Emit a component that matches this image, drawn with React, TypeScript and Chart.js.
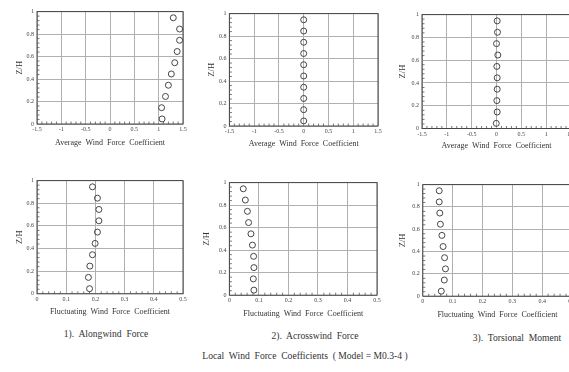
import React, { useEffect, useRef } from "react";
import { Chart, registerables } from "chart.js";
Chart.register(...registerables);

const heights = [0.045, 0.145, 0.245, 0.345, 0.445, 0.545, 0.645, 0.745, 0.845, 0.945];
const meanAlong = [1.07, 1.06, 1.14, 1.2, 1.26, 1.33, 1.38, 1.43, 1.43, 1.3];
const meanAcross = [0, 0, 0, 0, 0, 0, 0, 0, 0, 0];
const meanTorsion = [-0.005, 0.014, 0.007, 0.014, 0.014, 0.007, 0.027, 0, 0.02, 0.014];
const fluctAlong = [0.18, 0.176, 0.181, 0.19, 0.199, 0.207, 0.212, 0.212, 0.207, 0.19];
const fluctAcross = [0.083, 0.081, 0.083, 0.082, 0.078, 0.073, 0.065, 0.061, 0.054, 0.047];
const fluctTorsion = [0.062, 0.072, 0.076, 0.073, 0.068, 0.064, 0.059, 0.057, 0.055, 0.055];

const meanTicks = [-1.5, -1, -0.5, 0, 0.5, 1, 1.5];
const fluctTicks = [0, 0.1, 0.2, 0.3, 0.4, 0.5];
const yTicks = [0, 0.2, 0.4, 0.6, 0.8, 1];

const meanTitle = "Average  Wind  Force  Coefficient";
const fluctTitle = "Fluctuating  Wind  Force  Coefficient";
const yTitle = "Z/H";
const captions = ["1).  Alongwind  Force", "2).  Acrosswind  Force", "3).  Torsional  Moment"];
const mainTitle = "Local  Wind  Force  Coefficients  ( Model = M0.3-4 )";

const FONT = "'Liberation Serif', 'DejaVu Serif', serif";
const T = 6;
const R = 8;

type Panel = {
  left: number; top: number; right: number; bottom: number;
  W: number; H: number; values: number[]; ticks: number[]; xTitle: string;
};

const panels: Panel[] = [
  { left: 37, top: 11, right: 183, bottom: 124, W: 22, H: 24, values: meanAlong, ticks: meanTicks, xTitle: meanTitle },
  { left: 229.3, top: 12.7, right: 378, bottom: 126, W: 22.4, H: 23, values: meanAcross, ticks: meanTicks, xTitle: meanTitle },
  { left: 422.3, top: 14, right: 571, bottom: 128, W: 24, H: 22.5, values: meanTorsion, ticks: meanTicks, xTitle: meanTitle },
  { left: 37, top: 180, right: 183, bottom: 293.3, W: 22, H: 23.2, values: fluctAlong, ticks: fluctTicks, xTitle: fluctTitle },
  { left: 229.3, top: 181.7, right: 377, bottom: 295, W: 27.4, H: 23.8, values: fluctAcross, ticks: fluctTicks, xTitle: fluctTitle },
  { left: 422.3, top: 184.3, right: 571, bottom: 296.7, W: 24.8, H: 23.8, values: fluctTorsion, ticks: fluctTicks, xTitle: fluctTitle },
];

const framePlugin = {
  id: "frame",
  afterDraw(chart: any) {
    const { ctx, chartArea } = chart;
    const xs = chart.scales.x;
    const ys = chart.scales.y;
    ctx.save();
    ctx.strokeStyle = "#444";
    ctx.lineWidth = 1;
    ctx.strokeRect(chartArea.left, chartArea.top, chartArea.right - chartArea.left, chartArea.bottom - chartArea.top);
    ctx.lineWidth = 0.8;
    ctx.strokeStyle = "#555";
    const xt = xs.ticks.map((t: any) => t.value);
    for (let i = 0; i < xt.length - 1; i++) {
      for (let k = 1; k < 5; k++) {
        const v = xt[i] + ((xt[i + 1] - xt[i]) * k) / 5;
        const px = xs.getPixelForValue(v);
        ctx.beginPath();
        ctx.moveTo(px, chartArea.bottom);
        ctx.lineTo(px, chartArea.bottom - 2.5);
        ctx.stroke();
      }
    }
    const yt = ys.ticks.map((t: any) => t.value);
    for (let i = 0; i < yt.length - 1; i++) {
      for (let k = 1; k < 5; k++) {
        const v = yt[i] + ((yt[i + 1] - yt[i]) * k) / 5;
        const py = ys.getPixelForValue(v);
        ctx.beginPath();
        ctx.moveTo(chartArea.left, py);
        ctx.lineTo(chartArea.left + 2.5, py);
        ctx.stroke();
      }
    }
    ctx.restore();
  },
};

function PanelChart({ p }: { p: Panel }) {
  const ref = useRef<HTMLCanvasElement>(null);
  const width = Math.round(p.right - p.left + p.W + R);
  const height = Math.round(T + (p.bottom - p.top) + p.H);
  useEffect(() => {
    if (!ref.current) return;
    const chart = new Chart(ref.current, {
      type: "scatter",
      data: {
        datasets: [
          {
            data: p.values.map((v, i) => ({ x: v, y: heights[i] })),
            pointStyle: "circle",
            pointRadius: 3,
            pointBorderWidth: 0.9,
            borderColor: "#333",
            backgroundColor: "rgba(0,0,0,0)",
            showLine: false,
          },
        ],
      },
      options: {
        animation: false,
        responsive: false,
        maintainAspectRatio: false,
        layout: { padding: { top: T, right: R, left: 0, bottom: 0 } },
        plugins: { legend: { display: false }, tooltip: { enabled: false } },
        scales: {
          x: {
            type: "linear",
            min: p.ticks[0],
            max: p.ticks[p.ticks.length - 1],
            afterBuildTicks: (axis: any) => {
              axis.ticks = p.ticks.map((v) => ({ value: v }));
            },
            afterFit: (axis: any) => {
              axis.height = p.H;
            },
            grid: { color: "#b0b0b0", lineWidth: 1, drawTicks: false },
            border: { display: false },
            ticks: {
              padding: 2,
              maxRotation: 0,
              autoSkip: false,
              color: "#444",
              font: { family: FONT, size: 6 },
              callback: (v: any) => String(v),
            },
            title: {
              display: true,
              text: p.xTitle,
              color: "#333",
              padding: 0,
              font: { family: FONT, size: 8 },
            },
          },
          y: {
            type: "linear",
            min: 0,
            max: 1,
            afterBuildTicks: (axis: any) => {
              axis.ticks = yTicks.map((v) => ({ value: v }));
            },
            afterFit: (axis: any) => {
              axis.width = p.W;
            },
            grid: { color: "#b0b0b0", lineWidth: 1, drawTicks: false },
            border: { display: false },
            ticks: {
              padding: 3,
              autoSkip: false,
              color: "#444",
              font: { family: FONT, size: 6 },
              callback: (v: any) => String(v),
            },
            title: {
              display: true,
              text: yTitle,
              color: "#333",
              padding: 0,
              font: { family: FONT, size: 8.5 },
            },
          },
        },
      },
      plugins: [framePlugin],
    });
    return () => chart.destroy();
  }, []);
  return (
    <canvas
      ref={ref}
      width={width}
      height={height}
      style={{ position: "absolute", left: p.left - p.W, top: p.top - T, width, height }}
    />
  );
}

const textStyle = (x: number, y: number, size: number): React.CSSProperties => ({
  position: "absolute",
  left: x,
  top: y,
  transform: "translate(-50%, -50%)",
  fontFamily: FONT,
  fontSize: size,
  color: "#333",
  whiteSpace: "pre",
});

export default function App() {
  return (
    <div
      style={{
        position: "absolute",
        left: 0,
        top: 0,
        width: 569,
        height: 372,
        overflow: "hidden",
        background: "#fff",
      }}
    >
      {panels.map((p, i) => (
        <PanelChart key={i} p={p} />
      ))}
      <div style={textStyle(106, 333, 9.6)}>{captions[0]}</div>
      <div style={textStyle(315, 335, 9.6)}>{captions[1]}</div>
      <div style={textStyle(517, 336.7, 9.6)}>{captions[2]}</div>
      <div style={textStyle(305, 355, 9.6)}>{mainTitle}</div>
    </div>
  );
}
